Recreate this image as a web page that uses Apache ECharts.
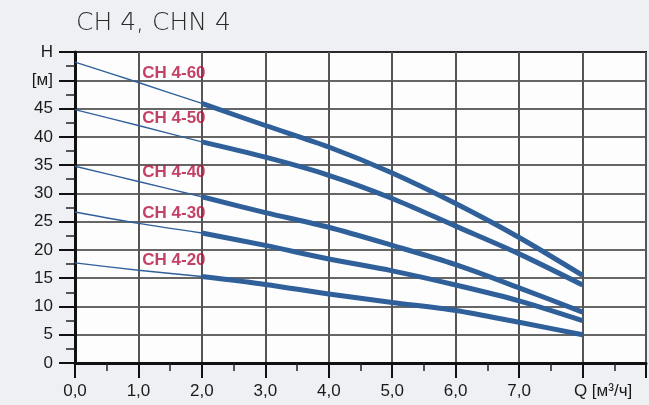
<!DOCTYPE html>
<html>
<head>
<meta charset="utf-8">
<script src="https://cdn.jsdelivr.net/npm/echarts@6/dist/echarts.min.js"></script>
<style>
  html, body { margin: 0; padding: 0; background: #eef0f4; }
  #chart { width: 649px; height: 405px; }
</style>
</head>
<body>
<div id="chart"></div>
<script>
// ---- data ----
const titleText = 'CH 4, CHN 4';
const qValues = [0, 1, 2, 3, 4, 5, 6, 7, 8];
const models = ['CH 4-60', 'CH 4-50', 'CH 4-40', 'CH 4-30', 'CH 4-20'];
const h60 = [53.2, 49.6, 45.9, 42.0, 38.2, 33.6, 28.2, 22.2, 15.5];
const h50 = [44.8, 42.0, 39.1, 36.4, 33.2, 29.1, 24.2, 19.3, 13.8];
const h40 = [34.8, 32.1, 29.4, 26.6, 24.0, 20.8, 17.4, 13.3, 9.0];
const h30 = [26.7, 24.7, 23.0, 20.8, 18.4, 16.3, 13.8, 11.0, 7.5];
const h20 = [17.7, 16.4, 15.3, 13.9, 12.2, 10.7, 9.3, 7.2, 5.0];
const curves = [h60, h50, h40, h30, h20];
const labelQ = [1.06, 1.06, 1.06, 1.06, 1.06];
const labelH = [51.2, 43.2, 33.8, 26.4, 18.2];
const xTickLabels = ['0,0', '1,0', '2,0', '3,0', '4,0', '5,0', '6,0', '7,0', 'Q [м³/ч]', ''];
const yTickLabels = ['0', '5', '10', '15', '20', '25', '30', '35', '40', '45', '[м]', 'H'];
const thinEndIndex = 2; // curve drawn thin up to this point, thick after

// ---- build ----
const curveColor = '#30609a';
const series = [];
curves.forEach((h, i) => {
  const pts = qValues.map((q, k) => [q, h[k]]);
  series.push({
    name: models[i] + ' thin', type: 'line', data: pts.slice(0, thinEndIndex + 1),
    showSymbol: false, smooth: 0.3, z: 3,
    lineStyle: { color: curveColor, width: 1.4 }
  });
  series.push({
    name: models[i], type: 'line', data: pts.slice(thinEndIndex),
    showSymbol: false, smooth: 0.3, z: 4,
    lineStyle: { color: curveColor, width: 5 }
  });
});
series.push({
  type: 'scatter', symbolSize: 0, z: 5,
  data: models.map((m, i) => [labelQ[i], labelH[i], m]),
  label: {
    show: true, position: 'right', distance: 0,
    formatter: p => p.data[2],
    color: '#b5123e', fontWeight: 'bold', fontSize: 17, fontFamily: 'Liberation Sans'
  }
});

const chart = echarts.init(document.getElementById('chart'));
chart.setOption({
  animation: false,
  backgroundColor: '#eef0f4',
  title: {
    text: titleText, left: 71, top: 6,
    textStyle: { fontFamily: 'DejaVu Sans', fontWeight: 'lighter', fontSize: 25, color: '#2a2a2a' }
  },
  grid: {
    left: 75, right: 3, top: 52, bottom: 42,
    show: true, backgroundColor: '#fdfdfd', borderColor: '#111', borderWidth: 2
  },
  xAxis: {
    type: 'value', min: 0, max: 9, interval: 1,
    axisLine: { show: true, onZero: false, lineStyle: { color: '#111', width: 3 } },
    axisTick: { show: true, length: 15, lineStyle: { color: '#111', width: 2 } },
    minorTick: { show: true, splitNumber: 2, length: 8, lineStyle: { color: '#222', width: 1.5 } },
    splitLine: { show: true, lineStyle: { color: '#555', width: 2 } },
    axisLabel: {
      margin: 20, fontSize: 17, color: '#1a1a1a', fontFamily: 'Liberation Sans',
      showMinLabel: true, showMaxLabel: true,
      formatter: v => {
        const t = xTickLabels[Math.round(v)];
        return t.startsWith('Q') ? '{q|' + t + '}' : t;
      },
      rich: { q: { fontSize: 17, color: '#1a1a1a', fontFamily: 'Liberation Sans', padding: [0, 0, 0, 41] } }
    }
  },
  yAxis: {
    type: 'value', min: 0, max: 55, interval: 5,
    axisLine: { show: true, onZero: false, lineStyle: { color: '#111', width: 3 } },
    axisTick: { show: true, length: 16, lineStyle: { color: '#111', width: 2 } },
    minorTick: { show: true, splitNumber: 2, length: 9, lineStyle: { color: '#222', width: 1.5 } },
    splitLine: { show: true, lineStyle: { color: '#333', width: 1.5 } },
    axisLabel: {
      margin: 22, fontSize: 17, color: '#1a1a1a', fontFamily: 'Liberation Sans',
      showMinLabel: true, showMaxLabel: true,
      formatter: v => yTickLabels[Math.round(v / 5)]
    }
  },
  series: series
});
</script>
</body>
</html>
